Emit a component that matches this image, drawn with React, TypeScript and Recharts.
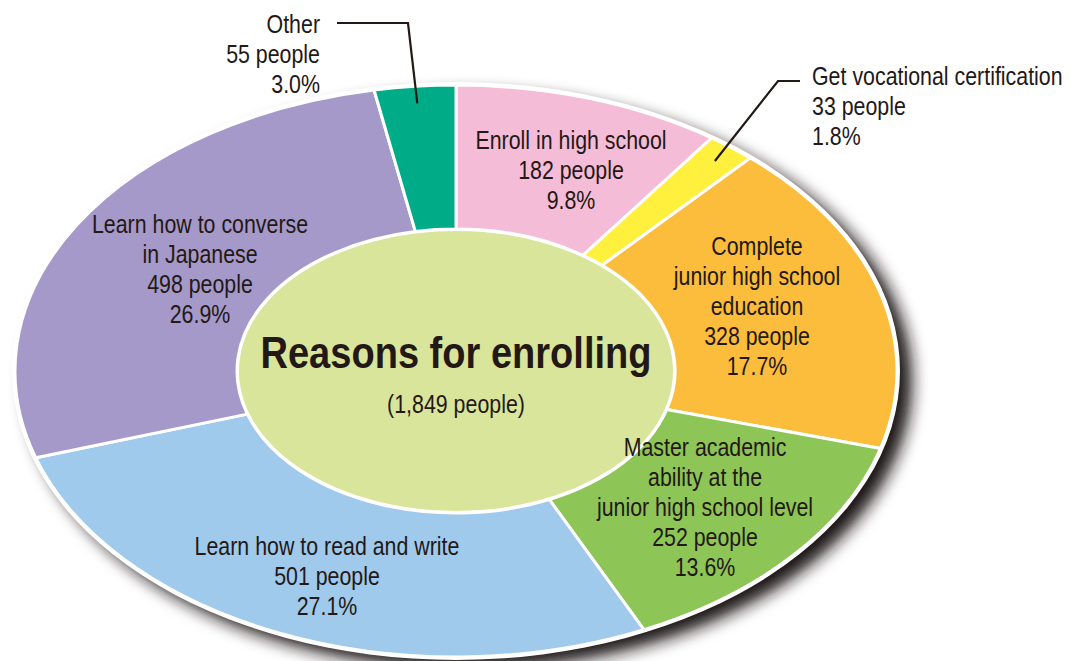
import React from "react";
import { PieChart, Pie } from "recharts";

const categories = [
  "Enroll in high school",
  "Get vocational certification",
  "Complete junior high school education",
  "Master academic ability at the junior high school level",
  "Learn how to read and write",
  "Learn how to converse in Japanese",
  "Other",
];

const people = [182, 33, 328, 252, 501, 498, 55];

const colors = ["#f5bcd7", "#fff03e", "#fbbd3b", "#8dc556", "#9fcaec", "#a599c9", "#00ac87"];

const totalLabel = "(1,849 people)";
const title = "Reasons for enrolling";

// text lines shown for each slice
const labelLines = [
  ["Enroll in high school"],
  ["Get vocational certification"],
  ["Complete", "junior high school", "education"],
  ["Master academic", "ability at the", "junior high school level"],
  ["Learn how to read and write"],
  ["Learn how to converse", "in Japanese"],
  ["Other"],
];

const W = 1085;
const H = 661;
const CX = 456;
const CY = 371;
const OUTER = 441;
const INNER = 219;
const K = 0.6485; // vertical squash of the ellipse
const INK = "#231815";
const FONT = "'Liberation Sans', Arial, sans-serif";
const NARROW = 0.855; // condensed look
const LINE = 30;

// where each label sits, keyed by slice
const labelLayout: Record<string, { x: number; y: number; anchor: string; leader?: number[][] }> = {
  "Enroll in high school": { x: 571, y: 149, anchor: "middle" },
  "Get vocational certification": { x: 812, y: 85, anchor: "start", leader: [[800, 81], [778, 81]] },
  "Complete junior high school education": { x: 757, y: 255, anchor: "middle" },
  "Master academic ability at the junior high school level": { x: 705, y: 456, anchor: "middle" },
  "Learn how to read and write": { x: 327, y: 555, anchor: "middle" },
  "Learn how to converse in Japanese": { x: 200, y: 233, anchor: "middle" },
  Other: { x: 320, y: 33, anchor: "end", leader: [[337, 23], [408, 23]] },
};

const data = categories.map((name, i) => ({ name, value: people[i], fill: colors[i] }));

const RAD = Math.PI / 180;

function EllipseSector(props: any) {
  const { cx, cy, innerRadius, outerRadius, startAngle, endAngle, fill } = props;
  const pt = (r: number, a: number) => [cx + r * Math.cos(-a * RAD), cy + r * K * Math.sin(-a * RAD)];
  const [x1, y1] = pt(outerRadius, startAngle);
  const [x2, y2] = pt(outerRadius, endAngle);
  const [x3, y3] = pt(innerRadius, endAngle);
  const [x4, y4] = pt(innerRadius, startAngle);
  const large = Math.abs(endAngle - startAngle) > 180 ? 1 : 0;
  const sweep = startAngle > endAngle ? 1 : 0;
  const d =
    `M${x1},${y1} A${outerRadius},${outerRadius * K} 0 ${large} ${sweep} ${x2},${y2} ` +
    `L${x3},${y3} A${innerRadius},${innerRadius * K} 0 ${large} ${1 - sweep} ${x4},${y4} Z`;
  return <path d={d} fill={fill} stroke="#fff" strokeWidth={3} strokeLinejoin="round" />;
}

function NarrowText({ x, y, anchor, lines, size = 25 }: any) {
  return (
    <text
      transform={`translate(${x},0) scale(${NARROW},1)`}
      x={0}
      y={y}
      textAnchor={anchor}
      fill={INK}
      fontFamily={FONT}
      fontSize={size}
    >
      {lines.map((l: string, i: number) => (
        <tspan key={i} x={0} y={y + i * LINE}>
          {l}
        </tspan>
      ))}
    </text>
  );
}

function renderLabel(props: any) {
  const { cx, cy, midAngle, outerRadius, index, percent } = props;
  const name = categories[index];
  const lay = labelLayout[name];
  const lines = [...labelLines[index], `${people[index]} people`, `${(percent * 100).toFixed(1)}%`];
  let leader = null;
  if (lay.leader) {
    const r = outerRadius * 0.94;
    const ex = cx + r * Math.cos(-midAngle * RAD);
    const ey = cy + r * K * Math.sin(-midAngle * RAD);
    const pts = [...lay.leader, [ex, ey]].map((p) => p.join(",")).join(" ");
    leader = <polyline points={pts} fill="none" stroke={INK} strokeWidth={2.2} />;
  }
  return (
    <g key={name}>
      {leader}
      <NarrowText x={lay.x} y={lay.y} anchor={lay.anchor} lines={lines} />
    </g>
  );
}

export default function App() {
  return (
    <div style={{ position: "absolute", left: 0, top: 0, width: W, height: H, background: "#fff" }}>
      <PieChart width={W} height={H} margin={{ top: 0, right: 0, bottom: 0, left: 0 }}>
        <defs>
          <filter id="shadow" x="-10%" y="-10%" width="120%" height="125%">
            <feGaussianBlur stdDeviation="8" />
          </filter>
        </defs>
        <ellipse cx={CX + 13} cy={CY + 10} rx={OUTER + 2} ry={OUTER * K + 2} fill="#1e1718" filter="url(#shadow)" />
        <ellipse cx={CX} cy={CY} rx={OUTER + 3} ry={OUTER * K + 3} fill="#fff" />
        <ellipse cx={CX} cy={CY} rx={INNER} ry={INNER * K} fill="#d9e59b" stroke="#fff" strokeWidth={4} />
        <Pie
          data={data}
          dataKey="value"
          nameKey="name"
          cx={CX}
          cy={CY}
          innerRadius={INNER}
          outerRadius={OUTER}
          startAngle={90}
          endAngle={-270}
          stroke="#fff"
          shape={EllipseSector}
          inactiveShape={EllipseSector}
          activeShape={EllipseSector}
          label={renderLabel}
          labelLine={false}
          isAnimationActive={false}
        />
        <text x={CX} y={368} textAnchor="middle" fill={INK} fontFamily={FONT} fontWeight="bold" fontSize={44} textLength={391} lengthAdjust="spacingAndGlyphs">
          {title}
        </text>
        <NarrowText x={CX} y={413} anchor="middle" lines={[totalLabel]} />
      </PieChart>
    </div>
  );
}
